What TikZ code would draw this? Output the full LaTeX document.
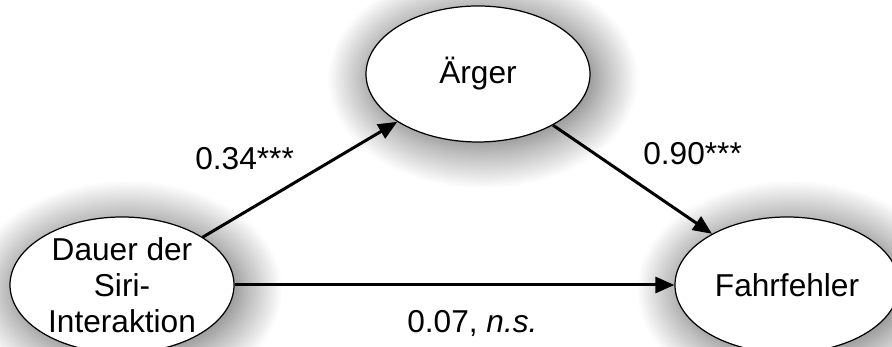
\documentclass[tikz,border=0pt]{standalone}
\usepackage{fontspec}
\setmainfont{Liberation Sans}
\usepackage{tikz}
\usetikzlibrary{shapes.geometric,arrows.meta,positioning,shadows.blur}

\begin{document}
\begin{tikzpicture}[
    font=\fontsize{18}{20.5}\selectfont,
    var/.style={ellipse, draw, fill=white, line width=0.7pt, minimum width=4.48cm, minimum height=2.72cm, inner sep=0pt, align=center,
        blur shadow={shadow xshift=0.1cm, shadow yshift=-0.1cm, shadow scale=1.04, shadow blur radius=0.75cm, shadow blur steps=30, shadow opacity=60}},
    coef/.style={anchor=base west, inner sep=0pt},
    arrow/.style={-{Triangle[length=0.38cm, width=0.32cm]}, line width=1.7pt}
]
\useasboundingbox (0,0) rectangle (17.84,6.94);

\node[var] (aerger) at (9.56,5.46) {Ärger};
\node[var] (dauer) at (2.44,1.24) {Dauer der\\ Siri-\\ Interaktion};
\node[var] (fahr) at (15.74,1.24) {Fahrfehler};

\draw[arrow] (dauer) -- (aerger);
\draw[arrow] (aerger) -- (fahr);
\draw[arrow] (dauer.east) -- (fahr.west);

% path coefficients
\node[coef] (a) at (3.9,3.54) {0.34***};
\node[coef] (b) at (12.86,3.64) {0.90***};
\node[coef] (c) at (8.14,0.28) {0.07, \textit{n.s.}};
\end{tikzpicture}
\end{document}
